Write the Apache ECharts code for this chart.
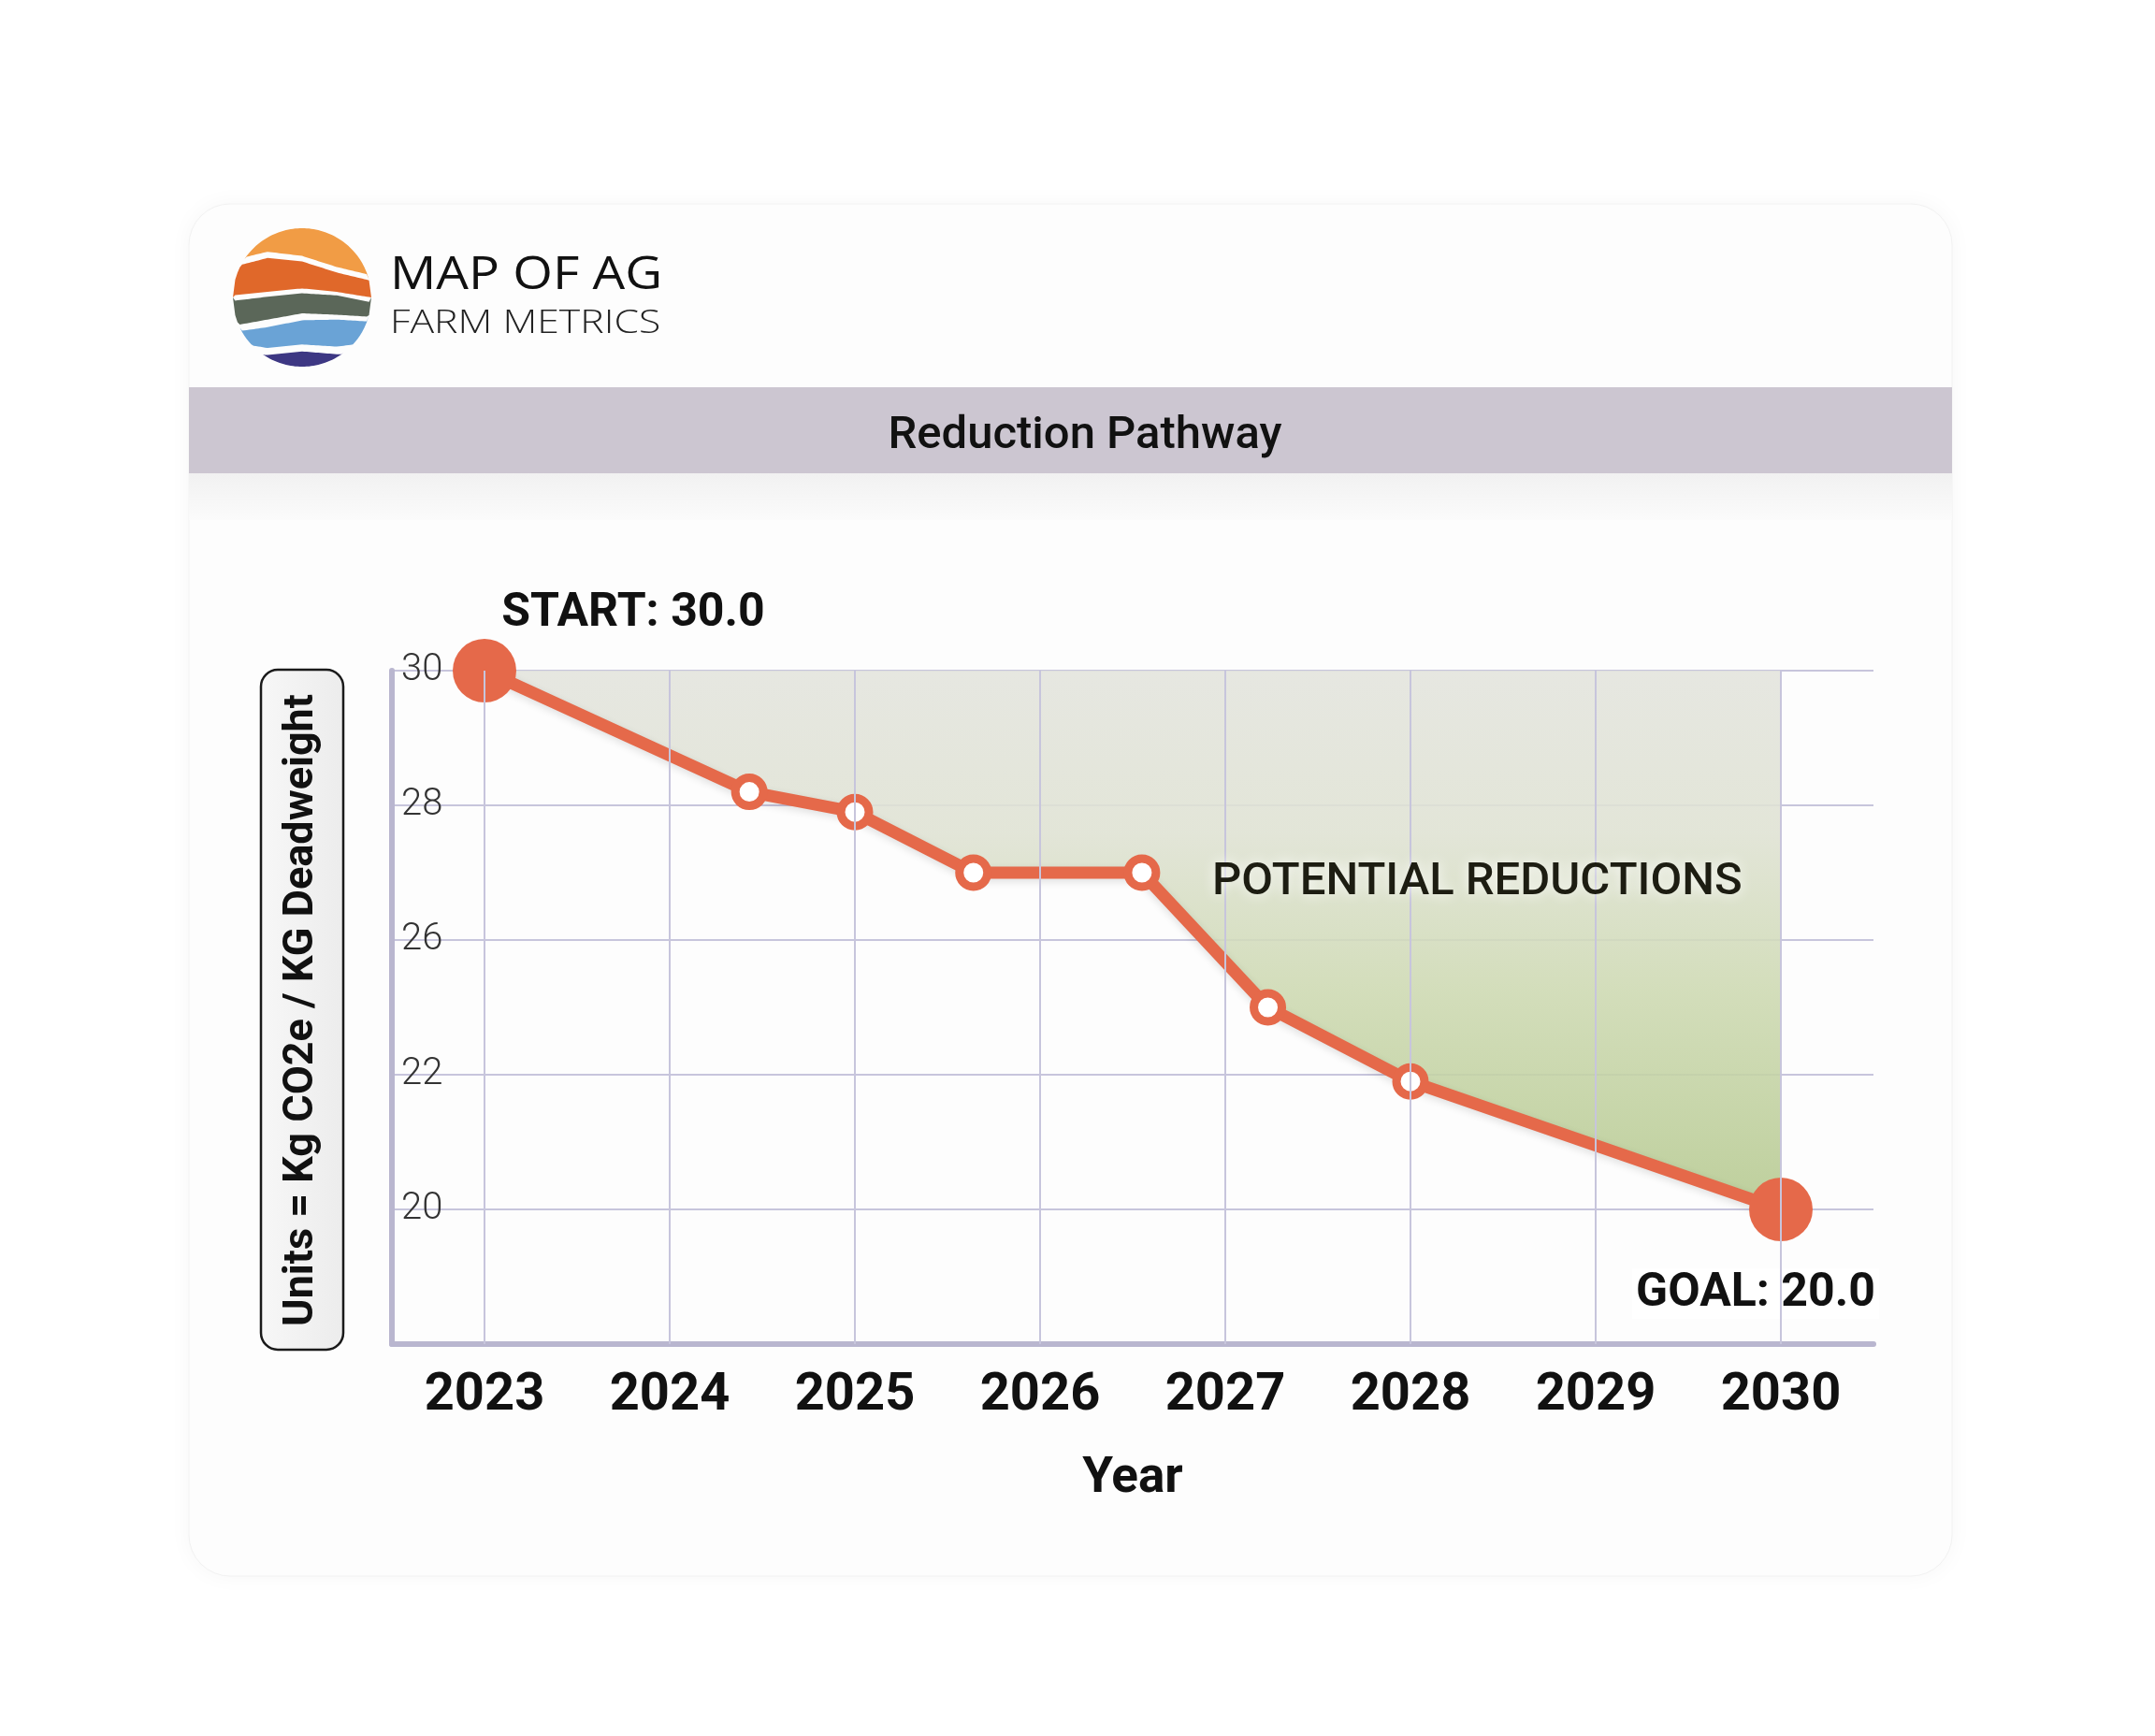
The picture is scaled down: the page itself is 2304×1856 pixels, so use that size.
<!DOCTYPE html>
<html>
<head>
<meta charset="utf-8">
<script src="https://cdn.jsdelivr.net/npm/echarts@6/dist/echarts.min.js"></script>
<style>
  html, body { margin: 0; padding: 0; background: #fff; }
  #main { width: 2304px; height: 1856px; }
</style>
</head>
<body>
<div id="main"></div>
<script>
// data
const years = [2023, 2024, 2025, 2026, 2027, 2028, 2029, 2030];
const pointYears = [2023, 2024.43, 2025, 2025.64, 2026.55, 2027.23, 2028, 2030];
const pointValues = [30.0, 28.2, 27.9, 27.0, 27.0, 24.0, 21.9, 20.0];
const yTickLabels = [30, 28, 26, 22, 20];   // evenly spaced on the chart, top to bottom

const ORANGE = '#e5694a';
const GRID_COLOR = '#c7c5dc';
const AXIS_COLOR = '#b9b6cf';

// the axis is not linear (26 -> 22 takes one step), so map values onto tick steps
const TOP = yTickLabels.length;
function toAxis(v) {
  for (let i = 0; i < yTickLabels.length - 1; i++) {
    const a = yTickLabels[i], b = yTickLabels[i + 1];
    if (v <= a && v >= b) return TOP - i - (a - v) / (a - b);
  }
  const last = yTickLabels[yTickLabels.length - 1];
  return 1 - (last - v) / 2;
}

const lineData = pointYears.map((x, i) => {
  const item = { value: [x, toAxis(pointValues[i])] };
  const first = i === 0, lastPt = i === pointYears.length - 1;
  if (first || lastPt) {
    item.symbolSize = 68;
    item.itemStyle = { color: ORANGE, borderWidth: 0 };
    item.label = {
      show: true,
      position: 'inside',
      formatter: (first ? 'START: ' : 'GOAL: ') + pointValues[i].toFixed(1),
      offset: first ? [159, -61] : [-27, 90],
      fontSize: 50,
      fontWeight: 'bold',
      color: '#111',
      backgroundColor: first ? 'transparent' : 'rgba(255,255,255,0.9)',
      padding: [2, 4]
    };
  }
  return item;
});

// logo: wavy bands clipped to a circle
const LOGO = { cx: 323, cy: 318, r: 74 };
const logoU = [-1, -0.5, 0, 0.5, 1];
const logoBands = [
  { color: '#f19c45', top: [-1.2, -1.2, -1.2, -1.2, -1.2], bot: [-0.54, -0.66, -0.60, -0.44, -0.32] },
  { color: '#e0682a', top: [-0.44, -0.57, -0.52, -0.36, -0.24], bot: [-0.03, -0.08, -0.13, -0.08, 0.0] },
  { color: '#5b6759', top: [0.05, -0.01, -0.06, -0.03, 0.07], bot: [0.41, 0.32, 0.23, 0.25, 0.28] },
  { color: '#6aa3d6', top: [0.50, 0.43, 0.33, 0.32, 0.35], bot: [0.65, 0.73, 0.68, 0.71, 0.65] },
  { color: '#3d3783', top: [0.83, 0.83, 0.78, 0.82, 0.83], bot: [1.2, 1.2, 1.2, 1.2, 1.2] }
];
function edgeAt(arr, u) {
  for (let i = 0; i < logoU.length - 1; i++) {
    if (u <= logoU[i + 1]) {
      const t = (u - logoU[i]) / (logoU[i + 1] - logoU[i]);
      return arr[i] + (arr[i + 1] - arr[i]) * t;
    }
  }
  return arr[arr.length - 1];
}
function bandPolygon(band) {
  const N = 60, topPts = [], botPts = [];
  for (let k = 0; k <= N; k++) {
    const u = -1 + 2 * k / N;
    const half = Math.sqrt(Math.max(0, 1 - u * u));
    const t = Math.min(Math.max(edgeAt(band.top, u), -half), half);
    let b = Math.min(Math.max(edgeAt(band.bot, u), -half), half);
    if (b < t) b = t;
    const x = LOGO.cx + u * LOGO.r;
    topPts.push([x, LOGO.cy + t * LOGO.r]);
    botPts.push([x, LOGO.cy + b * LOGO.r]);
  }
  return topPts.concat(botPts.reverse());
}

const graphics = [
  { type: 'rect', z: -10, shape: { x: 202, y: 218, width: 1885, height: 1467, r: 44 },
    style: { fill: '#fdfdfd', stroke: '#f2f2f2', lineWidth: 1, shadowBlur: 24, shadowColor: 'rgba(0,0,0,0.04)' } },
  { type: 'rect', z: -9, shape: { x: 202, y: 414, width: 1885, height: 92 }, style: { fill: '#ccc6d1' } },
  { type: 'rect', z: -9, shape: { x: 202, y: 506, width: 1885, height: 50 },
    style: { fill: new echarts.graphic.LinearGradient(0, 0, 0, 1, [
      { offset: 0, color: '#f1f1f1' }, { offset: 1, color: '#fbfbfb' }]) } },
  // logo wordmark, stretched to the width of the original lettering
  { type: 'text', z: 5, x: 417, y: 295, scaleX: 1.12,
    style: { text: 'MAP OF AG', font: '500 49px "Open Sans"', fill: '#111', verticalAlign: 'middle' } },
  { type: 'text', z: 5, x: 417, y: 346, scaleX: 1.22,
    style: { text: 'FARM METRICS', font: '300 35px "Open Sans"', fill: '#222', verticalAlign: 'middle' } },
  // y axis name box
  { type: 'rect', z: 5, shape: { x: 279, y: 716, width: 88, height: 727, r: 18 },
    style: { fill: new echarts.graphic.LinearGradient(0, 0, 1, 0, [
      { offset: 0, color: '#f7f7f7' }, { offset: 1, color: '#ececec' }]), stroke: '#1a1a1a', lineWidth: 2.5 } },
  { type: 'text', z: 6, x: 323, y: 1080, rotation: Math.PI / 2,
    style: { text: 'Units = Kg CO2e / KG Deadweight', font: 'bold 45px Roboto', fill: '#111',
      align: 'center', verticalAlign: 'middle' } }
].concat(logoBands.map(b => ({
  type: 'polygon', z: 5, shape: { points: bandPolygon(b) }, style: { fill: b.color }
})));

const chart = echarts.init(document.getElementById('main'));
chart.setOption({
  animation: false,
  backgroundColor: '#fff',
  textStyle: { fontFamily: 'Roboto' },
  title: {
    text: 'Reduction Pathway',
    left: 1155, top: 462, textAlign: 'center', textVerticalAlign: 'middle',
    textStyle: { fontSize: 49, fontWeight: 500, color: '#111', fontFamily: 'Roboto' }
  },
  graphic: graphics,
  grid: { left: 419, top: 717, width: 1584, height: 720, outerBoundsMode: 'none' },
  xAxis: {
    type: 'value', min: 2022.5, max: 2030.5, interval: 0.5,
    axisLine: { show: true, lineStyle: { color: AXIS_COLOR, width: 6 } },
    axisTick: { show: false },
    splitLine: { show: false },
    axisLabel: {
      formatter: v => (Number.isInteger(v) ? String(v) : ''),
      fontSize: 56, fontWeight: 'bold', color: '#111', margin: 28
    },
    name: 'Year', nameLocation: 'middle', nameGap: 118,
    nameTextStyle: { fontSize: 53, fontWeight: 'bold', color: '#111' }
  },
  yAxis: {
    type: 'value', min: 0, max: TOP, interval: 1,
    axisLine: { show: true, lineStyle: { color: AXIS_COLOR, width: 6 } },
    axisTick: { show: false },
    splitLine: { show: true, lineStyle: { color: GRID_COLOR, width: 2 } },
    axisLabel: {
      inside: true, margin: 10,
      formatter: v => { const i = TOP - v; return i >= 0 && i < yTickLabels.length ? String(yTickLabels[i]) : ''; },
      fontSize: 40, fontWeight: 300, color: '#333'
    }
  },
  series: [
    {
      // vertical grid lines at each year
      type: 'line', z: 1, data: [], silent: true,
      markLine: {
        silent: true, symbol: ['none', 'none'], label: { show: false },
        lineStyle: { color: GRID_COLOR, width: 2, type: 'solid' },
        data: years.map(y => ({ xAxis: y }))
      }
    },
    {
      type: 'line', z: 3, data: lineData,
      symbol: 'circle', symbolSize: 30,
      itemStyle: { color: '#fff', borderColor: ORANGE, borderWidth: 9 },
      lineStyle: { color: ORANGE, width: 13, shadowBlur: 8, shadowColor: 'rgba(0,0,0,0.12)', shadowOffsetY: 3 },
      areaStyle: {
        origin: 'end', opacity: 0.88,
        color: new echarts.graphic.LinearGradient(0, 0, 0, 1, [
          { offset: 0, color: '#e3e4dd' },
          { offset: 0.3, color: '#dfe2d3' },
          { offset: 0.6, color: '#cdd9b1' },
          { offset: 1, color: '#b5c98f' }
        ])
      },
      markPoint: {
        silent: true, symbolSize: 0,
        data: [{ coord: [2028.36, toAxis(26.85)] }],
        label: {
          show: true, formatter: 'POTENTIAL REDUCTIONS',
          fontSize: 49, fontWeight: 500, color: '#1d1d12',
          textShadowColor: '#ffffff', textShadowBlur: 14
        }
      }
    }
  ]
});
</script>
</body>
</html>
